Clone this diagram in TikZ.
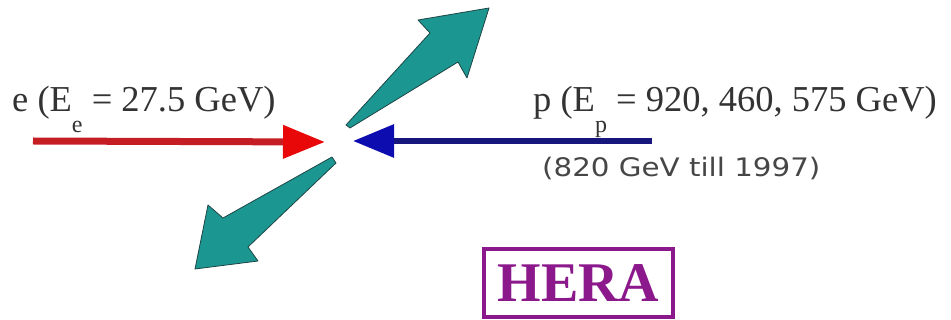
\documentclass[tikz,border=0pt]{standalone}
\usepackage{fontspec}
\setmainfont{Liberation Serif}
\newfontfamily\notefont[FakeStretch=1.15]{DejaVu Sans}
\usepackage{xcolor}
\definecolor{beamred}{RGB}{196,30,36}
\definecolor{tipred}{RGB}{232,8,10}
\definecolor{beamblue}{RGB}{22,22,125}
\definecolor{tipblue}{RGB}{12,12,175}
\definecolor{jetteal}{RGB}{28,150,145}
\definecolor{jetedge}{RGB}{30,70,70}
\definecolor{herapurple}{RGB}{140,25,140}
\definecolor{notegray}{RGB}{70,70,70}
\usetikzlibrary{arrows.meta}

\begin{document}
\begin{tikzpicture}[x=1pt, y=-1pt,
    ebeam/.style={-{Triangle[length=42pt, width=32pt, color=tipred]}, beamred, line width=7pt},
    pbeam/.style={-{Triangle[length=41pt, width=32pt, color=tipblue]}, beamblue, line width=6pt},
    jet/.style={fill=jetteal, draw=jetedge, line width=0.8pt, line join=round},
    label/.style={font=\fontsize{36.5}{40}\selectfont, text=black!80, inner sep=0pt},
    note/.style={font=\notefont\fontsize{25.5}{28}\selectfont, text=notegray, inner sep=0pt},
]

\useasboundingbox (0,0) rectangle (951,320);

%% --- beam ends ---
\coordinate (eStart) at (33,141);
\coordinate (eEnd) at (325,142);
\coordinate (pStart) at (652,141);
\coordinate (pEnd) at (353,141);

%% --- electron beam ---
\draw[ebeam] (eStart) -- (eEnd);
\node[label, anchor=base west] (elabel) at (12,112)
    {e (E\raisebox{-0.56em}{\fontsize{24}{24}\selectfont e} = 27.5 GeV)};

%% --- proton beam ---
\draw[pbeam] (pStart) -- (pEnd);
\node[label, anchor=base west] (plabel) at (533,112)
    {p (E\raisebox{-0.56em}{\fontsize{24}{24}\selectfont p} = 920, 460, 575 GeV)};
\node[note, anchor=base west] (pnote) at (542,177) {(820 GeV till 1997)};

%% --- outgoing jets ---
\filldraw[jet] (346,125) -- (430,33) -- (418,20) -- (489,8)
    -- (467,78) -- (458,62) -- (350,128) -- cycle;
\filldraw[jet] (332,157) -- (223,218) -- (208,205) -- (195,269)
    -- (258,261) -- (248,247) -- (336,163) -- cycle;

%% --- name box ---
\node[draw=herapurple, line width=4.5pt, text=herapurple,
      minimum width=189pt, minimum height=68pt, inner sep=0pt,
      font=\bfseries\fontsize{56}{56}\selectfont] (hera) at (578.5,283)
    {\raisebox{0pt}[\fontcharht\font`H][0pt]{HERA}};

\end{tikzpicture}
\end{document}
